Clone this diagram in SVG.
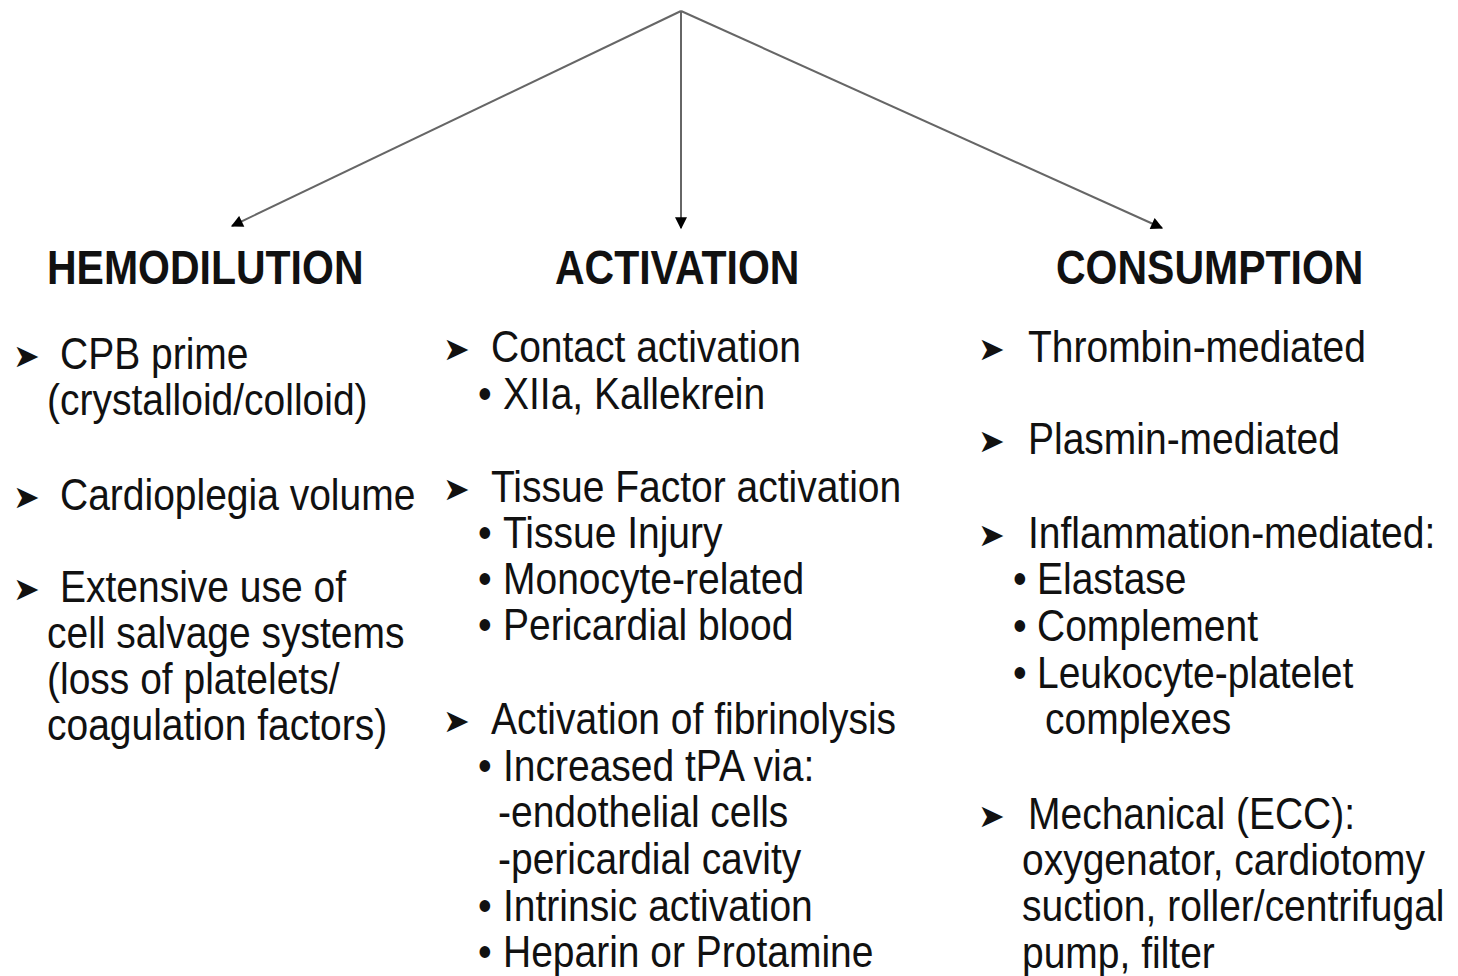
<svg xmlns="http://www.w3.org/2000/svg" width="1458" height="976" viewBox="0 0 1458 976">
<defs>
<marker id="ah" viewBox="0 0 10 10" refX="9" refY="5" markerWidth="6.5" markerHeight="6" orient="auto" markerUnits="strokeWidth">
<path d="M0,0 L10,5 L0,10 z" fill="#000"/>
</marker>
<style>
.t{font-family:"Liberation Sans",Arial,sans-serif;font-size:39px;fill:#111}
.h{font-family:"Liberation Sans",Arial,sans-serif;font-size:41px;font-weight:bold;fill:#111}
.a{font-family:"DejaVu Sans",sans-serif;font-size:32px;fill:#111}
.c{stroke:#666;stroke-width:2;fill:none}
</style>
</defs>
<rect width="1458" height="976" fill="#fff"/>
<g id="connectors">
<line class="c" x1="681" y1="11" x2="232" y2="226" marker-end="url(#ah)"/>
<line class="c" x1="681" y1="11" x2="681" y2="228" marker-end="url(#ah)"/>
<line class="c" x1="681" y1="11" x2="1162" y2="228" marker-end="url(#ah)"/>
</g>
<g id="hemodilution">
<text class="h" transform="translate(47,284) scale(1,1.18)">HEMODILUTION</text>
<text class="a" x="13" y="367">➤</text><text class="t" transform="translate(60,369) scale(1,1.14)">CPB prime</text>
<text class="t" transform="translate(47,415) scale(1,1.14)">(crystalloid/colloid)</text>
<text class="a" x="13" y="508">➤</text><text class="t" transform="translate(60,510) scale(1,1.14)">Cardioplegia volume</text>
<text class="a" x="13" y="600">➤</text><text class="t" transform="translate(60,602) scale(1,1.14)">Extensive use of</text>
<text class="t" transform="translate(47,648) scale(1,1.14)">cell salvage systems</text>
<text class="t" transform="translate(47,694) scale(1,1.14)">(loss of platelets/</text>
<text class="t" transform="translate(47,740) scale(1,1.14)">coagulation factors)</text>
</g>
<g id="activation">
<text class="h" transform="translate(555,284) scale(1,1.18)">ACTIVATION</text>
<text class="a" x="443" y="360">➤</text><text class="t" transform="translate(491,362) scale(1,1.14)">Contact activation</text>
<text class="t" transform="translate(478,409) scale(1,1.14)">•</text><text class="t" transform="translate(503,409) scale(1,1.14)">XIIa, Kallekrein</text>
<text class="a" x="443" y="500">➤</text><text class="t" transform="translate(491,502) scale(1,1.14)">Tissue Factor activation</text>
<text class="t" transform="translate(478,548) scale(1,1.14)">•</text><text class="t" transform="translate(503,548) scale(1,1.14)">Tissue Injury</text>
<text class="t" transform="translate(478,594) scale(1,1.14)">•</text><text class="t" transform="translate(503,594) scale(1,1.14)">Monocyte-related</text>
<text class="t" transform="translate(478,640) scale(1,1.14)">•</text><text class="t" transform="translate(503,640) scale(1,1.14)">Pericardial blood</text>
<text class="a" x="443" y="732">➤</text><text class="t" transform="translate(491,734) scale(1,1.14)">Activation of fibrinolysis</text>
<text class="t" transform="translate(478,781) scale(1,1.14)">•</text><text class="t" transform="translate(503,781) scale(1,1.14)">Increased tPA via:</text>
<text class="t" transform="translate(498,827) scale(1,1.14)">-endothelial cells</text>
<text class="t" transform="translate(498,874) scale(1,1.14)">-pericardial cavity</text>
<text class="t" transform="translate(478,921) scale(1,1.14)">•</text><text class="t" transform="translate(503,921) scale(1,1.14)">Intrinsic activation</text>
<text class="t" transform="translate(478,967) scale(1,1.14)">•</text><text class="t" transform="translate(503,967) scale(1,1.14)">Heparin or Protamine</text>
</g>
<g id="consumption">
<text class="h" transform="translate(1056,284) scale(1,1.18)">CONSUMPTION</text>
<text class="a" x="978" y="360">➤</text><text class="t" transform="translate(1028,362) scale(1,1.14)">Thrombin-mediated</text>
<text class="a" x="978" y="452">➤</text><text class="t" transform="translate(1028,454) scale(1,1.14)">Plasmin-mediated</text>
<text class="a" x="978" y="546">➤</text><text class="t" transform="translate(1028,548) scale(1,1.14)">Inflammation-mediated:</text>
<text class="t" transform="translate(1013,594) scale(1,1.14)">•</text><text class="t" transform="translate(1037,594) scale(1,1.14)">Elastase</text>
<text class="t" transform="translate(1013,641) scale(1,1.14)">•</text><text class="t" transform="translate(1037,641) scale(1,1.14)">Complement</text>
<text class="t" transform="translate(1013,688) scale(1,1.14)">•</text><text class="t" transform="translate(1037,688) scale(1,1.14)">Leukocyte-platelet</text>
<text class="t" transform="translate(1045,734) scale(1,1.14)">complexes</text>
<text class="a" x="978" y="827">➤</text><text class="t" transform="translate(1028,829) scale(1,1.14)">Mechanical (ECC):</text>
<text class="t" transform="translate(1022,875) scale(1,1.14)">oxygenator, cardiotomy</text>
<text class="t" transform="translate(1022,921) scale(1,1.14)">suction, roller/centrifugal</text>
<text class="t" transform="translate(1022,968) scale(1,1.14)">pump, filter</text>
</g>
</svg>
